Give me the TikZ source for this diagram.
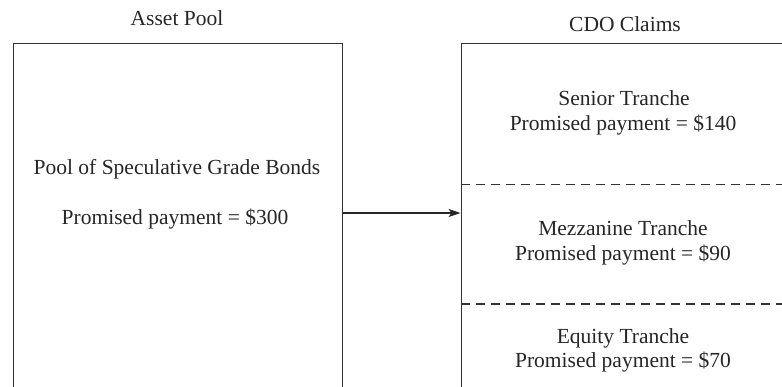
\documentclass[tikz,border=0pt]{standalone}
\usepackage{fontspec}
\setmainfont{Liberation Serif}
\usetikzlibrary{arrows.meta}
\begin{document}
\begin{tikzpicture}[x=1pt,y=-1pt,
  box/.style={draw=black!80, line width=1.4pt, rectangle, inner sep=0pt, anchor=north west},
  lbl/.style={font=\fontsize{21.5}{25}\selectfont, text=black!85, anchor=base, inner sep=0pt},
  sep/.style={draw=black!80, line width=1.2pt, dash pattern=on 9pt off 6pt},
  link/.style={draw=black!85, line width=1.1pt, -{Stealth[length=12pt,width=8pt,inset=3pt]}}]
\useasboundingbox (0,0) rectangle (782,386);
\clip (0,0) rectangle (782,386);
% boxes (their lower and right parts run off the picture)
\node[box, minimum width=329.5pt, minimum height=380pt] (pool) at (12.5,43) {};
\node[box, minimum width=360pt, minimum height=380pt] (cdo) at (460.5,43) {};
% titles
\node[lbl] (tpool) at (177,25) {Asset Pool};
\node[lbl] (tcdo) at (625,31) {CDO Claims};
% pool text
\node[lbl] (p1) at (177,174) {Pool of Speculative Grade Bonds};
\node[lbl] (p2) at (175,224) {Promised payment = \$300};
% tranche separators
\coordinate (s1) at (460.5,184.5);
\coordinate (s2) at (460.5,304);
\draw[sep] (s1) -- (782,184.5);
\draw[sep] (s2) -- (782,304);
% tranche texts
\node[lbl] (sen1) at (624,105) {Senior Tranche};
\node[lbl] (sen2) at (623,130) {Promised payment = \$140};
\node[lbl] (mez1) at (623,235) {Mezzanine Tranche};
\node[lbl] (mez2) at (623,260) {Promised payment = \$90};
\node[lbl] (eq1) at (623,343) {Equity Tranche};
\node[lbl] (eq2) at (623,367) {Promised payment = \$70};
% arrow
\coordinate (ay) at (0,213);
\draw[link] (pool.east |- ay) -- (cdo.west |- ay);
\end{tikzpicture}
\end{document}
